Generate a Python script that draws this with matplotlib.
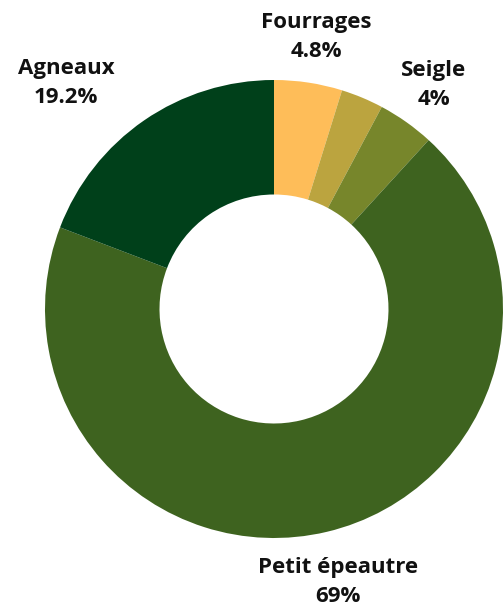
import matplotlib
matplotlib.use("Agg")
import matplotlib.pyplot as plt

categories = ["Fourrages", "Autres", "Seigle", "Petit épeautre", "Agneaux"]
values = [4.8, 3.0, 4.0, 69.0, 19.2]
labels_shown = ["Fourrages\n4.8%", None, "Seigle\n4%", "Petit épeautre\n69%", "Agneaux\n19.2%"]
colors = ["#FEBD59", "#BBA43F", "#77862B", "#3E631F", "#00401A"]

# label centres in pixel coordinates of the 504x610 image
label_px = [(316, 37), None, (434, 85), (338, 582), (66, 83)]

W, H = 504, 610
cx, cy, R = 274, 309, 229

fig = plt.figure(figsize=(W / 100, H / 100), dpi=100)
ax = fig.add_axes([0, 0, 1, 1])
ax.pie(values, colors=colors, startangle=90, counterclock=False,
       radius=1, wedgeprops=dict(width=0.5, edgecolor="none"))
ax.set_xlim((0 - cx) / R, (W - cx) / R)
ax.set_ylim((cy - H) / R, (cy - 0) / R)
ax.set_aspect("auto")
ax.axis("off")

for lab, pos in zip(labels_shown, label_px):
    if lab is None:
        continue
    x = (pos[0] - cx) / R
    y = (cy - pos[1]) / R
    ax.text(x, y, lab, ha="center", va="center", fontsize=16,
            fontweight="bold", family=["Open Sans", "DejaVu Sans"],
            color="#111111", linespacing=1.55)

fig.savefig("out.png", dpi=100)
